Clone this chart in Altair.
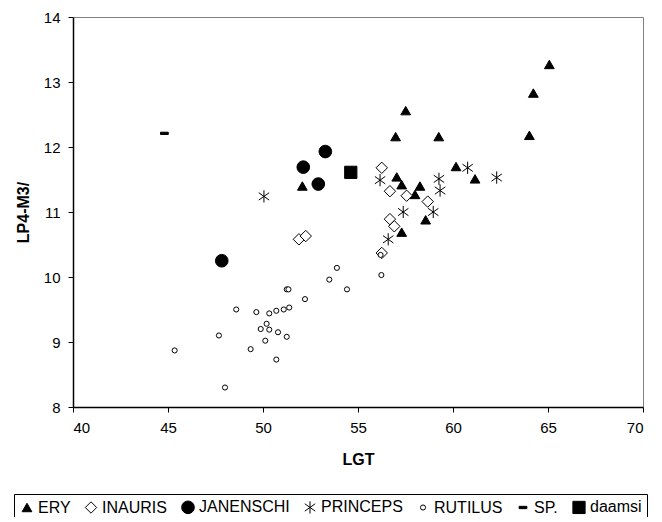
import altair as alt
import pandas as pd

species_order = ["ERY", "INAURIS", "JANENSCHI", "PRINCEPS", "RUTILUS", "SP.", "daamsi"]

ery_x = [65.07, 64.23, 64.02, 57.51, 56.98, 59.25, 52.07, 57.04, 57.30, 58.26, 58.00, 60.16, 61.16, 58.56, 57.30]
ery_y = [13.27, 12.83, 12.18, 12.56, 12.16, 12.16, 11.40, 11.54, 11.42, 11.40, 11.27, 11.70, 11.51, 10.88, 10.69]

inauris_x = [56.25, 56.68, 57.56, 58.67, 56.68, 56.91, 56.25, 51.89, 52.25]
inauris_y = [11.68, 11.32, 11.25, 11.16, 10.89, 10.78, 10.37, 10.58, 10.63]

janenschi_x = [53.28, 52.12, 52.91, 47.83]
janenschi_y = [11.93, 11.69, 11.43, 10.25]

princeps_x = [56.16, 59.26, 59.32, 60.77, 62.30, 57.38, 58.96, 56.59, 50.05]
princeps_y = [11.49, 11.51, 11.33, 11.68, 11.53, 11.00, 11.00, 10.58, 11.24]

rutilus_x = [45.35, 47.68, 48.00, 48.59, 49.35, 49.65, 50.19, 49.88, 50.12, 50.33, 50.33,
             50.70, 50.79, 50.70, 51.09, 51.38, 51.25, 51.25, 51.34, 52.21, 53.49, 53.89,
             54.42, 56.23, 56.19]
rutilus_y = [8.87, 9.10, 8.30, 9.50, 8.89, 9.46, 9.28, 9.20, 9.02, 9.19, 9.44,
             9.48, 9.15, 8.73, 9.50, 9.53, 9.08, 9.81, 9.81, 9.66, 9.96, 10.14,
             9.81, 10.03, 10.34]

sp_x = [44.81]
sp_y = [12.21]

daamsi_x = [54.62]
daamsi_y = [11.61]

x_ticks = [40, 45, 50, 55, 60, 65, 70]
y_ticks = [8, 9, 10, 11, 12, 13, 14]

series = [
    ("ERY", ery_x, ery_y),
    ("INAURIS", inauris_x, inauris_y),
    ("JANENSCHI", janenschi_x, janenschi_y),
    ("PRINCEPS", princeps_x, princeps_y),
    ("RUTILUS", rutilus_x, rutilus_y),
    ("SP.", sp_x, sp_y),
    ("daamsi", daamsi_x, daamsi_y),
]
rows = []
for name, xs, ys in series:
    for xv, yv in zip(xs, ys):
        rows.append({"species": name, "LGT": xv, "LP4": yv})
df = pd.DataFrame(rows)

asterisk = "M0,-1L0,1M-0.85,-0.6L0.85,0.6M-0.85,0.6L0.85,-0.6"
dash = "M-1,-0.3L1,-0.3L1,0.3L-1,0.3Z"
shapes = ["triangle-up", "diamond", "circle", asterisk, "circle", dash, "square"]
fills = ["black", "white", "black", "transparent", "white", "black", "black"]
strokes = ["black"] * 7
sizes = [95, 130, 160, 150, 26, 60, 150]

FONT = "Liberation Sans"

legend = alt.Legend(
    title=None,
    orient="none",
    legendX=-59,
    legendY=477,
    direction="horizontal",
    strokeColor="black",
    fillColor="white",
    padding=5,
    labelFont=FONT,
    labelFontSize=16,
    labelColor="black",
    labelOffset=3,
    columnPadding=12,
    symbolStrokeWidth=1,
)

chart = alt.Chart(df).mark_point(strokeWidth=1, opacity=1).encode(
    x=alt.X("LGT:Q", scale=alt.Scale(domain=[40, 70], nice=False, zero=False),
            axis=alt.Axis(values=x_ticks, title="LGT", grid=False, format="d")),
    y=alt.Y("LP4:Q", scale=alt.Scale(domain=[8, 14], nice=False, zero=False),
            axis=alt.Axis(values=y_ticks, title="LP4-M3/", grid=False, format="d")),
    shape=alt.Shape("species:N", scale=alt.Scale(domain=species_order, range=shapes), legend=legend),
    fill=alt.Fill("species:N", scale=alt.Scale(domain=species_order, range=fills), legend=legend),
    stroke=alt.Stroke("species:N", scale=alt.Scale(domain=species_order, range=strokes), legend=legend),
    size=alt.Size("species:N", scale=alt.Scale(type="ordinal", domain=species_order, range=sizes), legend=legend),
).properties(
    width=570,
    height=390,
    autosize="none",
    padding={"left": 65, "top": 9, "right": 10, "bottom": 110},
).configure_view(
    stroke="#808080",
    strokeWidth=1,
).configure_axis(
    domainColor="black",
    domainWidth=1.5,
    tickColor="black",
    tickSize=5,
    labelFont=FONT,
    labelFontSize=15,
    labelColor="black",
    labelPadding=8,
    titleFont=FONT,
    titleFontSize=16,
    titleFontWeight="bold",
    titleColor="black",
).configure_axisY(
    titlePadding=12,
).configure_axisX(
    titlePadding=16,
)

chart.save("out.html", embed_options={"renderer": "svg", "actions": False})
